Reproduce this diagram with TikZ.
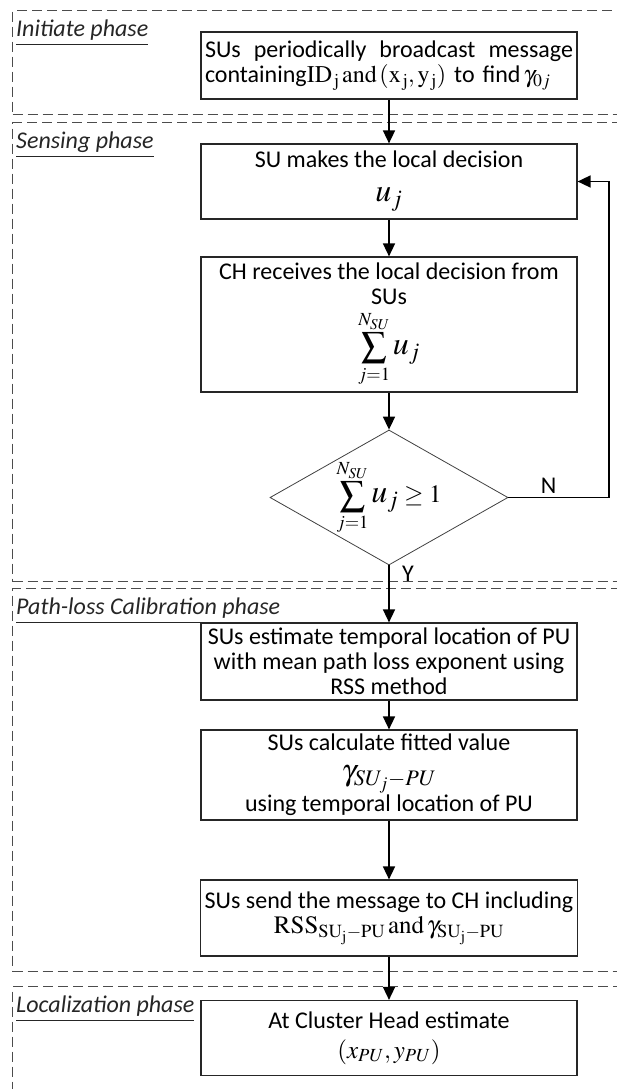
\documentclass[tikz,border=0pt]{standalone}
\usepackage{amsmath}
\usepackage{amssymb}
\usepackage{mathptmx}
\usepackage{fontspec}
\setmainfont{Carlito}
\usepackage{tikz}
\usetikzlibrary{arrows.meta,positioning,shapes.geometric}
\newcommand{\eqbig}[1]{{\fontsize{25}{30}\selectfont$\displaystyle #1$}}
\newcommand{\ujbig}{\mbox{\fontsize{32}{32}\selectfont$u_j$}}

\begin{document}
\begin{tikzpicture}[
    x=1pt, y=-1pt,
    node distance=120pt,
    >={Triangle[length=13pt,width=12pt]},
    font=\fontsize{24}{25}\selectfont,
    process/.style={
		rectangle,
		draw=black!85,
		line width=1.2pt,
		text centered,
		align=center,
		inner xsep=4pt,
		minimum width=376pt,
		fill=white
	},
	decision/.style={
		diamond,
		draw=black!75,
		line width=0.8pt,
		inner sep=0pt,
		aspect=1.76,
		minimum width=238pt,
		minimum height=135pt,
		fill=white
	},
	phase/.style={
		rectangle,
		draw=black!70,
		line width=1.2pt,
		dash pattern=on 10pt off 5pt,
		anchor=north west,
		inner sep=0pt,
		minimum width=630pt
	},
	phasename/.style={
		anchor=north west,
		inner sep=2pt,
		xshift=2pt,
		yshift=-8pt,
		text=black!85,
		font=\fontsize{24}{25}\selectfont\itshape
	},
	flow/.style={
		draw=black,
		line width=1.6pt,
		->
	}
  ]

\useasboundingbox (0,0) rectangle (616,1089);

% // The phases
\node [phase, minimum height=104pt] (fInit) at (12,10) {};
\node [phase, minimum height=459pt] (fSense) at (12,122) {};
\node [phase, minimum height=383pt] (fPath) at (12,588) {};
\node [phase, minimum height=130pt] (fLoc) at (12,986) {};

\node [phasename] (nInit) at (fInit.north west) {\underline{Initiate phase}};
\node [phasename] (nSense) at (fSense.north west) {\underline{Sensing phase}};
\node [phasename] (nPath) at (fPath.north west) {\underline{Path-loss Calibration phase}};
\node [phasename] (nLoc) at (fLoc.north west) {\underline{Localization phase}};

% // The steps
\node [process, minimum height=67pt, text width=368pt, align=left] (init) at (389,65.5)
 {%
 SUs\hfill periodically\hfill broadcast\hfill message\\
 containing$\mathrm{ID}_{\,\mathrm{j}}\,\mathrm{and}\,(\mathrm{x}_{\,\mathrm{j}},\mathrm{y}_{\,\mathrm{j}})$ to find$\,\gamma_{0j}$
 };

\node [process, minimum height=75pt, below of=init, yshift=4pt] (sense)
 {%
 SU makes the local decision\\[9pt]
 \ujbig
 };

\node [process, minimum height=135pt, below of=sense, yshift=-23pt] (collect)
 {%
 CH receives the local decision from\\
 SUs\\[6pt]
 \eqbig{\sum_{j=1}^{N_{SU}}\ujbig}
 };

\node [decision, below of=collect, yshift=-53pt] (dec)
 {\eqbig{\sum_{j=1}^{N_{SU}}\ujbig\geq 1}};

\node [process, minimum height=77pt, below of=dec, yshift=-44pt] (est)
 {%
 SUs estimate temporal location of PU\\
 with mean path loss exponent using\\
 RSS method
 };

\node [process, minimum height=90pt, below of=est, yshift=6.5pt] (fitval)
 {%
 SUs calculate fitted value\\[5pt]
 {\fontsize{30}{30}\selectfont$\gamma_{SU_j-PU}$}\\[1pt]
 using temporal location of PU
 };

\node [process, minimum height=76pt, below of=fitval, yshift=-23pt] (send)
 {%
 SUs send the message to CH including\\
 {\fontsize{25}{25}\selectfont$\mathrm{RSS}_{\mathrm{SU_j-PU}}\,\mathrm{and}\,\gamma_{\mathrm{SU_j-PU}}$}
 };

\node [process, minimum height=75pt, below of=send] (loc)
 {%
 At Cluster Head estimate\\[5pt]
 {\fontsize{25}{25}\selectfont$(x_{PU},y_{PU})$}
 };

% // The flow
\coordinate (back) at (609,497.5);

\draw [flow] (init) -- (sense);
\draw [flow] (sense) -- (collect);
\draw [flow] (collect) -- (dec);
\draw [flow] (dec) -- node [right, pos=0.14, xshift=9pt] (yes) {Y} (est);
\draw [flow] (dec.east) -- node [above, pos=0.4, inner sep=3pt] (no) {N} (back) |- (sense.east);
\draw [flow] (est) -- (fitval);
\draw [flow] (fitval) -- (send);
\draw [flow] (send) -- (loc);

\end{tikzpicture}
\end{document}
